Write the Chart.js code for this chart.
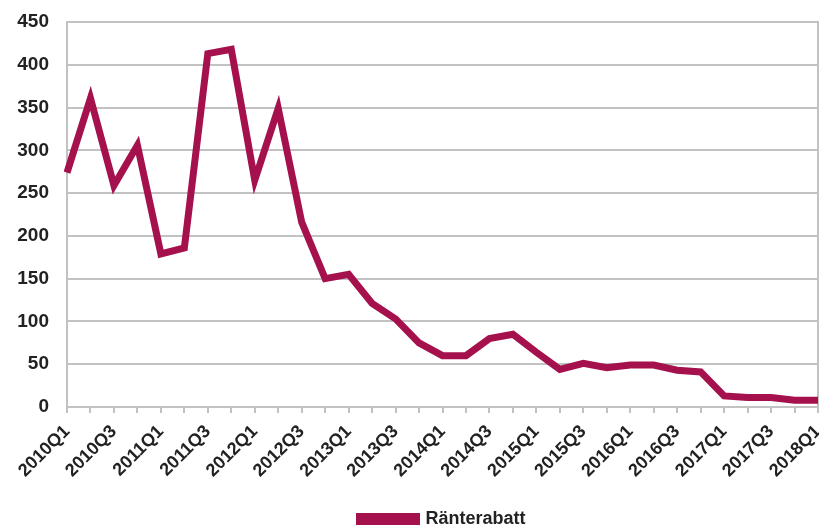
<!DOCTYPE html>
<html>
<head>
<meta charset="utf-8">
<script src="https://cdn.jsdelivr.net/npm/chart.js@4/dist/chart.umd.min.js"></script>
<style>
  html, body { margin: 0; padding: 0; background: #fff; }
  #wrap { width: 819px; height: 527px; }
</style>
</head>
<body>
<div id="wrap"><canvas id="rantChart" width="819" height="527"></canvas></div>
<script>
// kvartal 2010Q1 - 2018Q1
const quarters = [
  "2010Q1", "2010Q2", "2010Q3", "2010Q4",
  "2011Q1", "2011Q2", "2011Q3", "2011Q4",
  "2012Q1", "2012Q2", "2012Q3", "2012Q4",
  "2013Q1", "2013Q2", "2013Q3", "2013Q4",
  "2014Q1", "2014Q2", "2014Q3", "2014Q4",
  "2015Q1", "2015Q2", "2015Q3", "2015Q4",
  "2016Q1", "2016Q2", "2016Q3", "2016Q4",
  "2017Q1", "2017Q2", "2017Q3", "2017Q4",
  "2018Q1"
];
const ranterabatt = [
  274, 361, 259, 306, 179, 186, 413, 418,
  265, 349, 216, 150, 155, 121, 103, 75,
  60, 60, 80, 85, 64, 44, 51, 46,
  49, 49, 43, 41, 13, 11, 11, 8,
  8
];
const yTicks = [0, 50, 100, 150, 200, 250, 300, 350, 400, 450];

const lineColor = "#a5114d";
const gridColor = "#c2c2c2";
const fontFam = "Liberation Sans, Arial, sans-serif";

const ctx = document.getElementById("rantChart");
new Chart(ctx, {
  type: "line",
  data: {
    labels: quarters,
    datasets: [{
      label: "Ränterabatt",
      data: ranterabatt,
      borderColor: lineColor,
      backgroundColor: lineColor,
      borderWidth: 7,
      pointRadius: 0,
      tension: 0,
      borderJoinStyle: "miter",
      fill: false,
    }],
  },
  options: {
    responsive: false,
    animation: false,
    layout: { padding: { top: 22, right: 1, left: 0, bottom: -11 } },
    plugins: {
      tooltip: { enabled: false },
      legend: {
        display: true,
        position: "bottom",
        fullSize: false,
        labels: {
          color: "#222",
          font: { family: fontFam, size: 18, weight: "bold" },
          boxWidth: 57,
          boxHeight: 5,
          padding: 1,
        },
      },
    },
    scales: {
      x: {
        offset: false,
        grid: {
          drawOnChartArea: false,
          drawTicks: true,
          tickLength: 6,
          color: gridColor,
          lineWidth: 2,
        },
        border: { display: true, color: gridColor, width: 2 },
        ticks: {
          autoSkip: false,
          maxRotation: 45,
          minRotation: 45,
          color: "#222",
          font: { family: fontFam, size: 18, weight: "bold" },
          padding: 8,
          callback: function (val, i) {
            return i % 2 === 0 ? quarters[i] : "";
          },
        },
        afterFit: function (scale) {
          scale.height = 102;
          scale.paddingLeft = 0;
          scale.paddingRight = 0;
        },
      },
      y: {
        min: 0,
        max: 450,
        grid: { color: gridColor, lineWidth: 2, drawTicks: false },
        border: { display: true, color: gridColor, width: 2 },
        afterBuildTicks: function (scale) {
          scale.ticks = yTicks.map((v) => ({ value: v }));
        },
        ticks: {
          color: "#222",
          font: { family: fontFam, size: 19, weight: "bold" },
          padding: 18,
        },
        afterFit: function (scale) {
          scale.width = 67;
          scale.paddingTop = 0;
          scale.paddingBottom = 0;
        },
      },
      yRight: {
        position: "right",
        min: 0,
        max: 450,
        grid: { drawOnChartArea: false, drawTicks: false },
        border: { display: true, color: gridColor, width: 2 },
        ticks: { display: false },
        afterFit: function (scale) {
          scale.width = 0;
          scale.paddingTop = 0;
          scale.paddingBottom = 0;
        },
      },
    },
  },
});
</script>
</body>
</html>
